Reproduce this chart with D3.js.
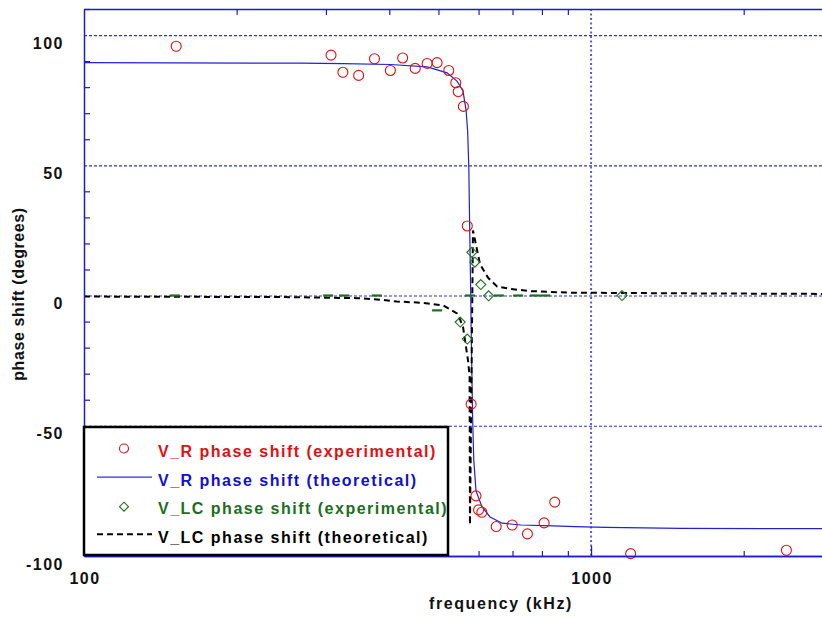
<!DOCTYPE html>
<html>
<head>
<meta charset="utf-8">
<script src="https://cdn.jsdelivr.net/npm/d3@7"></script>
<style>
	body { margin: 0; background: #fff; }
	svg text { font-family: "Liberation Sans", Arial, sans-serif; font-weight: bold; }
</style>
</head>
<body>
<svg id="chart" width="822" height="617"></svg>
<script>
// V_R phase shift, experimental (red circles)
const vrExpFreq = [152, 307, 324, 348, 374, 402, 425, 450, 475, 497, 524, 541, 547, 560, 570, 580, 593, 600, 609, 650, 699, 749, 808, 848, 1197, 2428];
const vrExpPhase = [95.7, 92.3, 85.7, 84.5, 90.9, 86.4, 91.2, 87.2, 89.1, 89.4, 86.4, 81.7, 78.3, 72.6, 26.7, -41.7, -76.9, -82.3, -83.2, -88.7, -88.1, -91.5, -87.3, -79.3, -99.1, -97.8];

// V_R phase shift, theoretical (blue line)
const vrTheoryFreq = [100, 267, 324, 402, 475, 488, 520, 544, 559, 567, 571, 574, 576, 578, 579, 580, 582, 584, 587, 593, 609, 632, 668, 727, 842, 930, 1070, 1500, 3000];
const vrTheoryPhase = [89.4, 89.2, 89, 88.7, 87.8, 87.1, 85.5, 82.3, 78.5, 71, 63, 49, 29, 10, 0, -12, -30, -47, -63, -75, -81, -85, -87.4, -88.1, -88.4, -88.7, -89, -89.4, -89.5];

// V_LC phase shift, experimental (green diamonds)
const lcExpFreq = [552, 570, 582, 590, 606, 628, 1151];
const lcExpPhase = [-10.2, -16.7, 16.6, 12.8, 4.2, -0.1, 0];

// V_LC experimental points that show as flat green marks
const lcFlatFreq = [151, 303, 326, 378, 497, 577, 658, 718, 775, 812];
const lcFlatPhase = [0, 0, 0, 0, -5.7, 0, 0, 0, 0, 0];

// V_LC phase shift, theoretical (black dashed)
const lcTheoryFreq = [100, 248, 346, 384, 414, 466, 511, 544, 551, 559, 564, 572, 576, 577, 585, 604, 626, 653, 695, 758, 909, 1641, 3000];
const lcTheoryPhase = [-0.4, -0.6, -1, -1.6, -2.3, -2.8, -3.8, -6.9, -9, -12, -17, -25, -31, -88, 25, 12, 6.9, 3.4, 2.5, 1.7, 1.1, 0.8, 0.6];

const xMajor = [100, 1000];
const xMinor = [200, 300, 400, 500, 600, 700, 800, 900, 2000];
const yMajor = [-100, -50, 0, 50, 100];
const yMinor = d3.range(-90, 111, 10).filter(v => v % 50 !== 0);
const yGrid = [-50, 0, 50, 100];

const legendItems = [
	{ label: "V_R phase shift (experimental)", color: "#e01010", kind: "circle" },
	{ label: "V_R phase shift (theoretical)", color: "#1010d0", kind: "line" },
	{ label: "V_LC phase shift (experimental)", color: "#1d6e1d", kind: "diamond" },
	{ label: "V_LC phase shift (theoretical)", color: "#000", kind: "dash" }
];

const plot = { left: 84, right: 833, top: 9, bottom: 556 };
const axisColor = "#1c1ccc";
const gridColor = "#2f2fdc";

const svg = d3.select("#chart");

const x = d3.scaleLog()
	.domain([100, 3000])
	.range([plot.left, plot.right]);

const y = d3.scaleLinear()
	.domain([-100, 110])
	.range([plot.bottom, plot.top]);

const zip = (xs, ys) => xs.map((f, i) => ({ f: f, v: ys[i] }));

// grid
svg.append("g")
	.selectAll("line")
	.data(yGrid)
	.join("line")
	.attr("x1", plot.left)
	.attr("x2", plot.right)
	.attr("y1", d => y(d) + 0.5)
	.attr("y2", d => y(d) + 0.5)
	.attr("stroke", gridColor)
	.attr("stroke-width", 1.2)
	.attr("stroke-dasharray", "3,2");

svg.append("line")
	.attr("x1", x(1000))
	.attr("x2", x(1000))
	.attr("y1", plot.top)
	.attr("y2", plot.bottom)
	.attr("stroke", "#5a5ae8")
	.attr("stroke-width", 2)
	.attr("stroke-dasharray", "2,2.5");

svg.append("clipPath")
	.attr("id", "plot-clip")
	.append("rect")
	.attr("x", plot.left)
	.attr("y", plot.top)
	.attr("width", plot.right - plot.left)
	.attr("height", plot.bottom - plot.top);

const line = d3.line()
	.x(d => x(d.f))
	.y(d => y(d.v));

const data = svg.append("g").attr("clip-path", "url(#plot-clip)");

data.append("path")
	.datum(zip(vrTheoryFreq, vrTheoryPhase))
	.attr("d", line)
	.attr("fill", "none")
	.attr("stroke", "#2020dd")
	.attr("stroke-width", 1.2);

data.append("path")
	.datum(zip(lcTheoryFreq, lcTheoryPhase))
	.attr("d", line)
	.attr("fill", "none")
	.attr("stroke", "#000")
	.attr("stroke-width", 2)
	.attr("stroke-dasharray", "6,4");

data.append("g")
	.selectAll("line")
	.data(zip(lcFlatFreq, lcFlatPhase))
	.join("line")
	.attr("x1", d => x(d.f) - 5)
	.attr("x2", d => x(d.f) + 5)
	.attr("y1", d => y(d.v))
	.attr("y2", d => y(d.v))
	.attr("stroke", "#1d6e1d")
	.attr("stroke-width", 2.2);

const diamond = (cx, cy, r) => "M" + cx + "," + (cy - r) + "L" + (cx + r) + "," + cy +
	"L" + cx + "," + (cy + r) + "L" + (cx - r) + "," + cy + "Z";

svg.append("g")
	.selectAll("path")
	.data(zip(lcExpFreq, lcExpPhase))
	.join("path")
	.attr("d", d => diamond(x(d.f), y(d.v), 5))
	.attr("fill", "none")
	.attr("stroke", "#1d6e1d")
	.attr("stroke-width", 1.1);

svg.append("g")
	.selectAll("circle")
	.data(zip(vrExpFreq, vrExpPhase))
	.join("circle")
	.attr("cx", d => x(d.f))
	.attr("cy", d => y(d.v))
	.attr("r", 5)
	.attr("fill", "none")
	.attr("stroke", "#e81010")
	.attr("stroke-width", 1.1);

// axes
const styleAxis = (g) => {
	g.selectAll("path.domain").attr("stroke", axisColor).attr("stroke-width", 1.5);
	g.selectAll(".tick line").attr("stroke", axisColor).attr("stroke-width", 1.2);
};

svg.append("g")
	.attr("transform", "translate(" + plot.left + ",0)")
	.call(d3.axisRight(y).tickValues(yMinor).tickSize(6).tickSizeOuter(0).tickFormat(""))
	.call(styleAxis);

svg.append("g")
	.attr("transform", "translate(0," + plot.top + ")")
	.call(d3.axisBottom(x).tickValues(xMinor).tickSize(6).tickSizeOuter(0).tickFormat(""))
	.call(styleAxis);

svg.append("g")
	.attr("transform", "translate(0," + plot.bottom + ")")
	.call(d3.axisTop(x).tickValues(xMinor).tickSize(5).tickSizeOuter(0).tickFormat(""))
	.call(styleAxis);

svg.append("g")
	.attr("transform", "translate(0," + plot.bottom + ")")
	.call(d3.axisTop(x).tickValues([1000]).tickSize(10).tickSizeOuter(0).tickFormat(""))
	.call(styleAxis);

// tick labels
svg.append("g")
	.selectAll("text")
	.data(yMajor)
	.join("text")
	.attr("x", 64)
	.attr("y", d => y(d) + 13.5)
	.attr("text-anchor", "end")
	.attr("font-size", 16)
	.attr("letter-spacing", 1.5)
	.attr("fill", "#111")
	.text(d => d);

svg.append("g")
	.selectAll("text")
	.data(xMajor)
	.join("text")
	.attr("x", d => x(d) + 1)
	.attr("y", 584)
	.attr("text-anchor", "middle")
	.attr("font-size", 16)
	.attr("letter-spacing", 1.5)
	.attr("fill", "#111")
	.text(d => d);

svg.append("text")
	.attr("x", 501)
	.attr("y", 609)
	.attr("text-anchor", "middle")
	.attr("font-size", 16)
	.attr("letter-spacing", 1.6)
	.attr("fill", "#111")
	.text("frequency (kHz)");

svg.append("text")
	.attr("transform", "translate(24,294) rotate(-90)")
	.attr("text-anchor", "middle")
	.attr("font-size", 16)
	.attr("letter-spacing", 0.6)
	.attr("fill", "#111")
	.text("phase shift (degrees)");

// legend
const legend = svg.append("g");

legend.append("rect")
	.attr("x", 84)
	.attr("y", 427)
	.attr("width", 364)
	.attr("height", 128)
	.attr("fill", "#fff")
	.attr("stroke", "#000")
	.attr("stroke-width", 2.5);

const row = legend.selectAll("g.legend-row")
	.data(legendItems)
	.join("g")
	.attr("class", "legend-row")
	.attr("transform", (d, i) => "translate(0," + (457 + i * 28.6) + ")");

row.append("text")
	.attr("x", 158)
	.attr("y", 0)
	.attr("font-size", 16)
	.attr("letter-spacing", 1.5)
	.attr("fill", d => d.color)
	.text(d => d.label);

row.filter(d => d.kind === "circle")
	.append("circle")
	.attr("cx", 124)
	.attr("cy", -8.5)
	.attr("r", 4.5)
	.attr("fill", "none")
	.attr("stroke", d => d.color)
	.attr("stroke-width", 1.1);

row.filter(d => d.kind === "line")
	.append("line")
	.attr("x1", 97)
	.attr("x2", 152)
	.attr("y1", -8.5)
	.attr("y2", -8.5)
	.attr("stroke", "#3030e0")
	.attr("stroke-width", 1.2);

row.filter(d => d.kind === "diamond")
	.append("path")
	.attr("d", diamond(124, -7.5, 4.5))
	.attr("fill", "none")
	.attr("stroke", d => d.color)
	.attr("stroke-width", 1.1);

row.filter(d => d.kind === "dash")
	.append("line")
	.attr("x1", 97)
	.attr("x2", 152)
	.attr("y1", -8.5)
	.attr("y2", -8.5)
	.attr("stroke", "#000")
	.attr("stroke-width", 2)
	.attr("stroke-dasharray", "6,4");
</script>
</body>
</html>
